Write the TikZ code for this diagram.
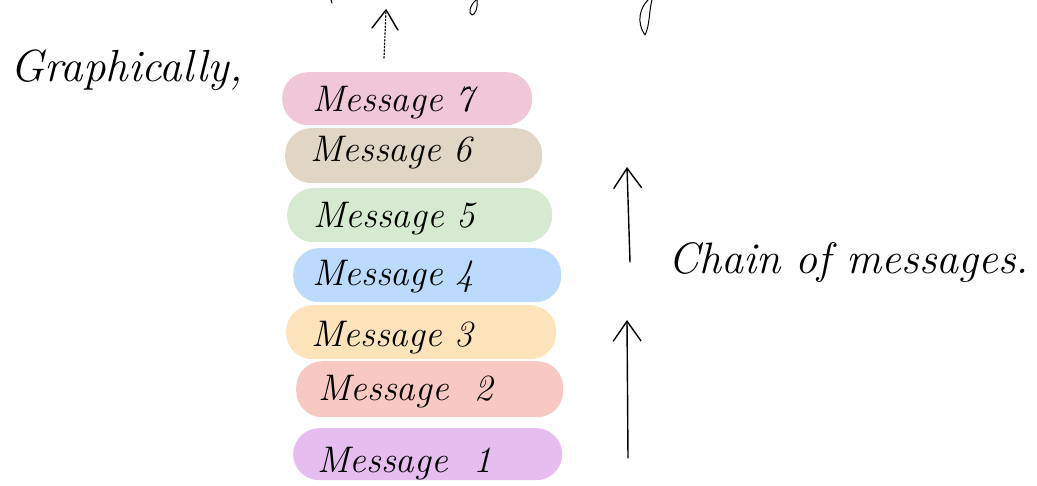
\documentclass[tikz,border=0pt]{standalone}
\usetikzlibrary{arrows.meta}
\definecolor{c7}{HTML}{F0C7D7}
\definecolor{c6}{HTML}{E1D5C6}
\definecolor{c5}{HTML}{D5EAD0}
\definecolor{c4}{HTML}{BCDAFB}
\definecolor{c3}{HTML}{FCE3BA}
\definecolor{c2}{HTML}{F8C9C3}
\definecolor{c1}{HTML}{E5BDEE}
\begin{document}
\begin{tikzpicture}[x=1pt,y={(0pt,-1pt)},
  msgbox/.style={anchor=north west, rounded corners=26pt, inner sep=0pt},
  hand/.style={font=\fontsize{37}{41}\selectfont\itshape, inner sep=0pt},
  pen/.style={line width=1.4pt, line cap=round, line join=round},
  tip/.style={-{Straight Barb[length=20pt,width=28pt,line width=1.4pt]}}]
\useasboundingbox (0,0) rectangle (1037,486);
% message boxes
\node[msgbox, fill=c7, minimum width=250pt, minimum height=53pt] (m7) at (282,72) {};
\node[msgbox, fill=c6, minimum width=257pt, minimum height=55pt] (m6) at (285,128) {};
\node[msgbox, fill=c5, minimum width=265pt, minimum height=54pt] (m5) at (287,188) {};
\node[msgbox, fill=c4, minimum width=268pt, minimum height=54pt] (m4) at (293,248) {};
\node[msgbox, fill=c3, minimum width=270pt, minimum height=54pt] (m3) at (286,305) {};
\node[msgbox, fill=c2, minimum width=267pt, minimum height=56pt] (m2) at (296,361) {};
\node[msgbox, fill=c1, minimum width=269pt, minimum height=52pt] (m1) at (293,428) {};
% labels
\node[hand, anchor=base west] (t7) at (312,112) {Message 7};
\node[hand, anchor=base west] (t6) at (310,162) {Message 6};
\node[hand, anchor=base west] (t5) at (313,228) {Message 5};
\node[hand, anchor=base west] (t4) at (312,286) {Message 4};
\node[hand, anchor=base west] (t3) at (311,347) {Message 3};
\node[hand, anchor=base west] (t2) at (318,401) {Message \ 2};
\node[hand, anchor=base west] (t1) at (317,472) {Message \ 1};
% side labels
\node[hand, anchor=base west, font=\fontsize{45}{49}\selectfont\itshape] (g) at (10,82) {Graphically,};
\node[hand, anchor=base west, font=\fontsize{44}{48}\selectfont\itshape] (chain) at (668,274) {Chain of messages.};
% dotted arrow above the chain
\coordinate (dtop) at (386,10);
\coordinate (dbot) at (384,58);
\draw[pen, dotted, line width=1.2pt] (dbot) -- (dtop);
\draw[pen] (372,28) -- (dtop) .. controls (390,16) and (394,24) .. (398,30);
% right arrows
\coordinate (a1s) at (630,262);
\coordinate (a1e) at (627,167);
\coordinate (a2s) at (628,458);
\coordinate (a2e) at (627,320);
\draw[pen, tip] (a1s) -- (a1e);
\draw[pen, tip] (a2s) -- (a2e);
% cut-off strokes at the top edge
\draw[pen, line width=1pt] (331,0) -- (332,3);
\draw[pen, line width=1pt] (476,0) .. controls (470,5) and (468,14) .. (472,15) .. controls (475,15) and (478,8) .. (477,0);
\draw[pen, line width=1pt] (648,0) .. controls (640,8) and (636,22) .. (645,35) .. controls (650,25) and (649,10) .. (652,0);
\end{tikzpicture}
\end{document}
